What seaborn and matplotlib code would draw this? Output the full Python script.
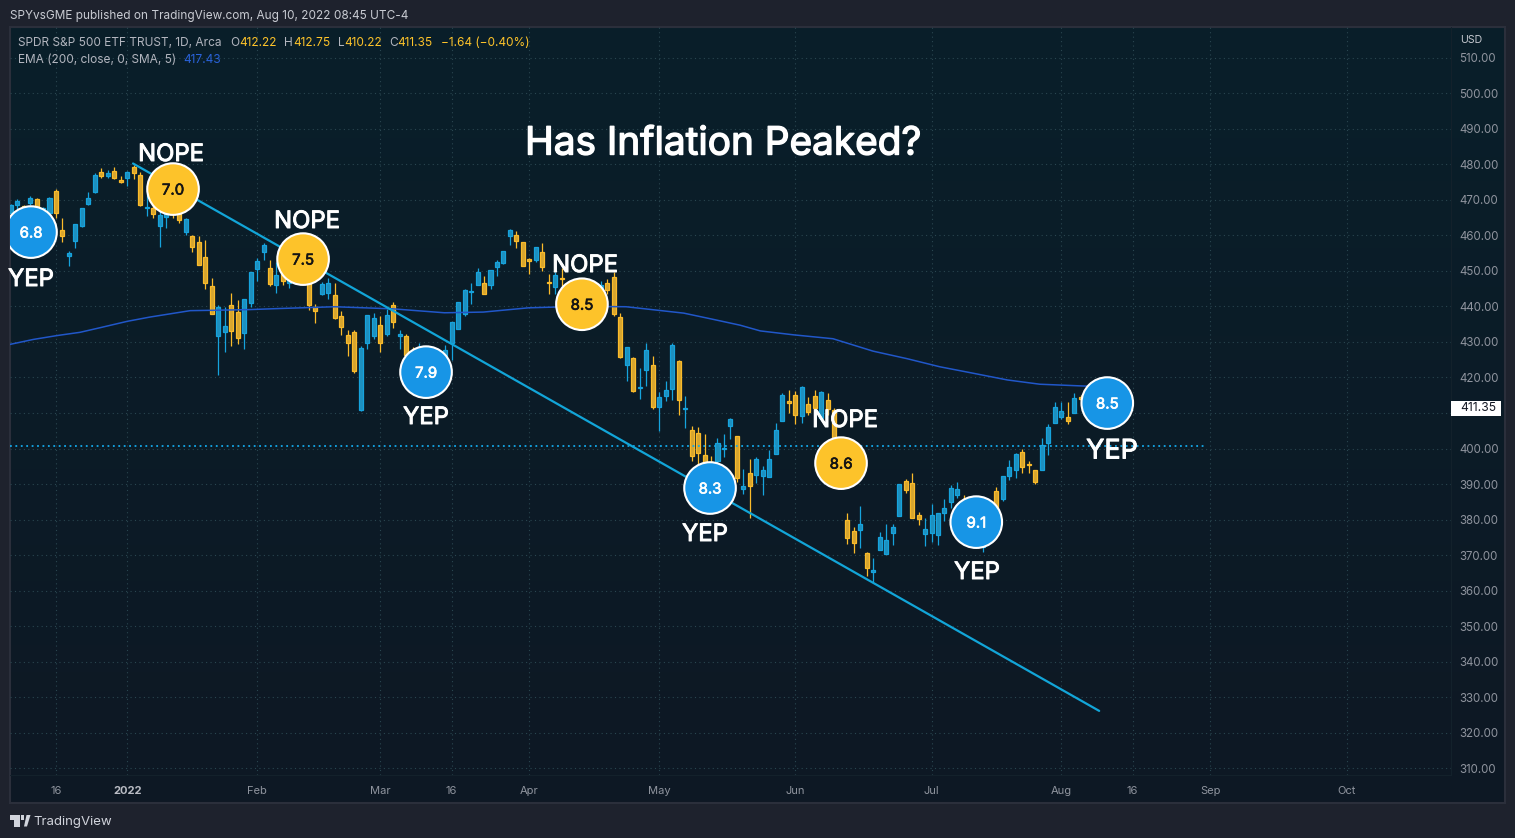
import numpy as np
import pandas as pd
import matplotlib
matplotlib.use("Agg")
import matplotlib.pyplot as plt
import matplotlib.patheffects as pe
from matplotlib.patches import Polygon, Rectangle
import seaborn as sns

W, H = 1515, 838

opens = [466.2,468.5,468.2,469.1,470.1,466.6,466.2,472.6,461.6,454.3,
 458.5,462.7,468.7,472.1,477.7,476.8,478.0,475.6,476.2,479.1,
 477.1,467.7,467.7,462.7,465.2,467.6,466.1,461.0,459.7,458.0,
 453.8,445.6,431.8,432.9,440.5,438.3,432.6,441.0,450.6,455.4,
 450.9,446.1,450.2,446.5,447.9,452.1,446.5,439.9,443.6,443.8,
 443.1,437.2,431.9,432.7,410.8,429.6,431.7,434.9,432.3,440.5,
 431.8,431.6,427.7,424.9,426.8,422.1,423.0,425.4,429.8,433.5,
 437.9,444.1,445.9,446.7,445.9,451.1,452.1,459.9,460.2,458.0,
 453.3,453.1,455.2,446.8,445.5,448.0,446.0,441.8,439.0,443.6,
 439.9,442.7,446.7,448.4,436.9,423.6,425.6,417.0,422.2,423.4,
 411.8,414.9,416.8,424.5,411.0,405.1,404.3,398.1,396.3,396.5,
 399.8,406.4,403.4,388.5,393.0,392.5,392.4,392.1,398.6,407.8,
 413.5,415.0,409.3,412.4,414.7,408.5,413.8,410.8,394.9,379.8,
 376.7,377.2,370.6,365.4,371.5,370.4,376.3,381.1,391.0,390.2,
 381.2,376.0,376.3,375.8,381.9,385.0,387.0,385.5,382.7,374.3,
 372.4,378.0,388.2,385.8,392.3,394.0,398.9,395.6,393.9,394.0,
 401.6,407.2,409.0,409.0,410.1,414.4,414.2,413.5,412.9,412.22]
closes = [468.5,469.6,466.6,470.6,467.6,467.6,470.6,466.3,459.9,455.0,
 463.1,467.6,470.6,477.1,476.8,477.4,476.2,474.9,477.7,477.6,
 468.4,467.9,466.1,465.6,466.6,466.6,464.4,464.7,456.6,451.7,
 446.6,437.9,439.7,434.4,433.1,431.2,442.0,449.8,452.9,457.4,
 446.4,448.7,447.2,448.3,449.7,448.3,440.5,438.8,446.2,446.5,
 436.8,434.1,429.6,421.9,428.2,437.7,436.6,429.8,437.7,435.7,
 432.1,426.3,423.0,428.2,423.0,425.8,426.8,427.7,435.5,441.1,
 444.5,444.3,449.6,443.6,450.3,452.6,455.6,461.6,458.5,451.5,
 452.9,456.8,451.0,446.5,448.7,447.6,442.2,444.6,444.6,439.0,
 444.1,446.0,444.6,437.9,425.8,428.5,416.1,417.3,427.6,411.8,
 414.4,416.4,429.0,413.7,411.3,398.0,398.8,395.4,392.1,401.7,
 400.0,408.2,391.8,389.4,389.5,397.0,393.9,397.2,405.1,415.2,
 412.9,409.5,417.2,410.4,411.5,415.8,411.0,402.9,389.7,374.9,
 373.5,378.9,366.5,365.7,375.0,374.2,377.8,389.9,388.4,380.5,
 380.3,377.3,381.2,381.8,383.2,388.9,388.5,382.7,378.0,378.9,
 378.0,382.7,382.7,392.2,394.7,398.6,394.8,395.4,390.7,400.9,
 406.0,411.8,410.7,407.8,414.3,414.0,413.6,412.9,413.0,411.35]
highs = [468.8,470.2,468.5,471.0,470.4,467.9,470.8,472.9,464.8,455.6,
 463.3,467.8,472.1,477.4,478.8,478.5,479.1,476.7,478.0,479.7,
 477.9,471.8,468.5,467.1,468.0,468.0,467.1,465.0,460.0,459.7,
 458.8,448.1,440.4,439.9,443.9,441.8,442.0,449.8,453.5,457.9,
 453.0,452.6,451.2,449.7,451.0,453.0,452.1,440.8,446.9,448.1,
 446.5,438.7,433.3,433.3,428.8,437.7,438.0,437.3,439.4,441.2,
 433.3,432.1,428.5,429.6,428.0,427.0,428.0,429.0,435.7,441.1,
 444.9,446.6,450.7,448.5,450.3,453.0,455.6,461.9,461.2,458.2,
 453.5,456.8,457.7,449.0,449.7,450.7,447.0,446.0,446.0,445.0,
 445.5,447.0,447.7,449.7,438.0,428.6,425.8,422.8,429.8,426.0,
 415.9,419.0,429.6,424.9,414.8,406.3,406.0,404.1,398.0,403.1,
 404.1,408.5,403.6,394.2,397.0,397.5,395.2,399.6,407.1,415.5,
 416.5,416.3,417.6,414.6,416.6,416.2,415.7,411.3,396.0,381.8,
 378.0,383.8,371.0,369.1,376.4,378.8,378.8,389.9,391.4,393.0,
 382.2,380.6,384.3,381.8,385.7,389.7,390.5,386.8,384.0,380.0,
 379.0,384.0,389.1,392.3,396.8,398.8,400.0,396.6,393.9,402.9,
 406.8,413.0,413.2,413.0,415.5,415.0,415.0,413.8,413.5,412.75]
lows = [465.4,467.1,466.2,468.5,466.6,466.0,465.7,464.9,458.2,451.4,
 456.5,462.4,468.5,471.8,476.2,476.2,475.8,474.6,473.8,475.8,
 468.2,465.4,464.9,456.8,462.0,465.0,463.5,460.1,455.4,451.7,
 444.8,437.9,420.7,427.2,428.8,429.5,428.0,439.9,447.1,453.0,
 445.7,443.8,446.0,445.2,446.5,447.5,439.0,435.4,443.2,442.0,
 436.5,431.9,426.0,421.3,410.5,428.1,430.9,427.1,431.6,434.0,
 428.1,425.8,422.0,424.0,421.5,421.0,422.0,424.5,424.9,433.5,
 437.4,440.6,445.9,443.6,445.0,448.5,451.9,457.2,456.5,451.5,
 449.2,452.5,450.0,443.6,443.6,445.7,441.0,440.0,438.0,438.0,
 439.0,441.5,443.5,437.4,425.6,419.0,415.9,414.0,417.6,411.2,
 404.9,413.4,413.6,409.4,405.8,396.6,394.0,394.0,390.0,395.4,
 397.7,402.7,390.7,387.2,380.5,390.2,386.9,392.1,398.6,407.8,
 409.9,406.9,407.3,409.4,410.4,408.0,409.4,402.4,388.5,373.2,
 370.7,372.1,364.2,362.5,371.5,370.2,372.9,381.1,387.6,380.5,
 378.5,372.6,373.7,372.9,379.7,383.4,386.0,381.8,376.0,372.5,
 371.0,377.0,381.8,385.2,391.1,391.8,393.0,393.0,390.0,394.0,
 398.3,407.2,408.3,406.9,410.1,413.6,413.0,412.5,412.5,410.22]
first_bar = -18

ema_bars = [-18.1,-14.5,-10.8,-7.3,-4.2,0,3.5,6.6,9.7,13.2,18.9,23.5,32,41,48.9,54.9,61.9,69.8,76.9,85.8,
            90.2,94.5,97.6,102.7,108.8,115,120.2,125.3,130.4,135.7,140.7,147.4,150]
ema_vals = [429.3,430.7,431.8,432.7,434.0,435.8,437.0,437.9,438.8,438.9,439.1,439.4,439.9,439.3,438.2,438.4,439.6,440.0,439.9,438.1,
            436.4,434.7,433.1,432.0,430.9,427.4,425.3,423.0,421.2,419.3,418.1,417.6,417.43]

trend_bars = [0.88, 149.85]
trend_vals = [480.2, 326.2]
level_bars = [-18.1, 166.5]
level_vals = [400.7, 400.7]

cpi_bars = [-14.85, 7.05, 27.1, 46.06, 70.1, 89.85, 110.05, 130.9, 151.1]
cpi_vals = [460.9, 473.0, 453.3, 421.5, 440.6, 388.9, 395.9, 379.3, 412.8]
cpi_text = ["6.8", "7.0", "7.5", "7.9", "8.5", "8.3", "8.6", "9.1", "8.5"]
cpi_call = ["YEP", "NOPE", "NOPE", "YEP", "NOPE", "YEP", "NOPE", "YEP", "YEP"]
call_px = [(31, 278), (171, 153), (307, 220), (426, 416), (585, 264), (705, 533), (845, 419), (977, 571), (1112, 449)]
call_size = [17.2, 17.2, 17.2, 17.2, 17.2, 17.2, 17.2, 17.2, 19.4]

price_ticks = list(range(310, 520, 10))
date_bars = [-11, 0, 20, 39, 50, 62, 82, 103, 124, 144, 155, 167, 188]
date_labels = ["16", "2022", "Feb", "Mar", "16", "Apr", "May", "Jun", "Jul", "Aug", "16", "Sep", "Oct"]

BLUE, YELLOW = "#1795e6", "#fdc32a"
UP_EDGE, UP_FACE = "#16a3dd", "#1e8fbe"
DN_EDGE, DN_FACE = "#fbbb2a", "#d6a52f"
OUTER = "#1e222d"

sns.set_theme(style="dark")
plt.rcParams["font.family"] = ["Inter", "DejaVu Sans"]

fig = plt.figure(figsize=(W / 100, H / 100), dpi=100, facecolor=OUTER)


def fx(px):
    return px / W


def fy(py):
    return 1 - py / H


def box(l, t, r, b):
    return [fx(l), fy(b), (r - l) / W, (b - t) / H]


def heavy(width, color="white"):
    return [pe.withStroke(linewidth=width, foreground=color)]


bg = fig.add_axes(box(10, 27, 1505, 803), zorder=0)
grad = np.linspace(0, 1, 256)[:, None, None] * np.array([[[5, -7, -6]]]) + np.array([[[9, 31, 42]]])
bg.imshow((grad / 255).clip(0, 1), aspect="auto", extent=(0, 1, 0, 1))
bg.set_xticks([])
bg.set_yticks([])
for s in bg.spines.values():
    s.set_color("#2b2f3b")
    s.set_linewidth(1.5)

ax = fig.add_axes(box(10, 27, 1451, 775), zorder=1)
ax.patch.set_alpha(0)
ax.set_xlim(-18.09, 204.1)
ax.set_ylim(308.16, 518.6)
for s in ax.spines.values():
    s.set_visible(False)
for side in ("right", "bottom"):
    ax.spines[side].set_visible(True)
    ax.spines[side].set_color("#14222c")
    ax.spines[side].set_linewidth(0.7)

ax.set_yticks(price_ticks)
ax.set_yticklabels(["" if p == 410 else f"{p:.2f}" for p in price_ticks])
ax.set_xticks(date_bars)
ax.set_xticklabels(date_labels)
ax.yaxis.tick_right()
ax.tick_params(axis="y", length=0, pad=6, labelsize=8.3, labelcolor="#8f949e")
ax.tick_params(axis="x", length=0, pad=8, labelsize=8, labelcolor="#8f949e")
for lab in ax.get_xticklabels():
    if lab.get_text() == "2022":
        lab.set_fontweight("bold")
        lab.set_color("#b9bcc4")
ax.grid(True, color="#2a4650", linestyle=(0, (1, 3)), linewidth=0.8)
ax.set_axisbelow(True)

df = pd.DataFrame({"bar": np.arange(first_bar, first_bar + len(opens)),
                   "open": opens, "high": highs, "low": lows, "close": closes})
df["up"] = df["close"] >= df["open"]
for up, edge, face in [(True, UP_EDGE, UP_FACE), (False, DN_EDGE, DN_FACE)]:
    part = df[df["up"] == up]
    ax.vlines(part["bar"], part["low"], part["high"], color=edge, linewidth=0.9, zorder=3)
    lo = part[["open", "close"]].min(axis=1)
    hi = part[["open", "close"]].max(axis=1)
    ax.bar(part["bar"], (hi - lo).clip(lower=0.3), bottom=lo, width=0.62, color=face,
           edgecolor=edge, linewidth=0.9, zorder=3.2)

sns.lineplot(x=ema_bars, y=ema_vals, ax=ax, color="#2157c9", linewidth=1.1, zorder=3.5, errorbar=None)
sns.lineplot(x=level_bars, y=level_vals, ax=ax, color="#14a8e8", linewidth=1.3, linestyle=(0, (1, 2)), zorder=3.6, errorbar=None)
sns.lineplot(x=trend_bars, y=trend_vals, ax=ax, color="#12a5d8", linewidth=1.6, zorder=4, errorbar=None)

colors = [BLUE if c == "YEP" else YELLOW for c in cpi_call]
ax.scatter(cpi_bars, cpi_vals, s=1380, c=colors, edgecolors="white", linewidths=1.5, zorder=5, clip_on=True)
for xb, yv, t, c in zip(cpi_bars, cpi_vals, cpi_text, cpi_call):
    col = "white" if c == "YEP" else "#141414"
    ax.text(xb, yv, t, ha="center", va="center_baseline", fontsize=10.8, color=col, zorder=6,
            path_effects=heavy(0.45, col))

for (px, py), c, size in zip(call_px, cpi_call, call_size):
    fig.text(fx(px), fy(py - 0.5), c, ha="center", va="center_baseline", fontsize=size,
             color="white", zorder=7, path_effects=heavy(0.7))

fig.text(fx(723), fy(140), "Has Inflation Peaked?", ha="center", va="center_baseline", fontsize=27.9,
         color="white", zorder=7, path_effects=heavy(1.0))

# price tag
fig.add_artist(Rectangle((fx(1451), fy(415.7)), 49.7 / W, 14.7 / H, fc="white", ec="none", zorder=2))
fig.text(fx(1496), fy(408.3), "411.35", ha="right", va="center", fontsize=8.7, color="#131722", zorder=3)

GREY = "#b2b5be"
fig.text(fx(10), fy(15.5), "SPYvsGME published on TradingView.com, Aug 10, 2022 08:45 UTC-4",
         fontsize=8.5, color="#c9ccd3", va="center", zorder=7)
fig.text(fx(18), fy(43.5), "SPDR S&P 500 ETF TRUST, 1D, Arca", fontsize=8.55, color=GREY, va="center", zorder=7)
legend_bits = [(230.3, "O", GREY), (239.3, "412.22", YELLOW), (284.3, "H", GREY), (293.3, "412.75", YELLOW),
               (337.7, "L", GREY), (344.3, "410.22", YELLOW), (389.3, "C", GREY), (397.7, "411.35", YELLOW),
               (441, "\u22121.64 (\u22120.40%)", YELLOW)]
for px, t, col in legend_bits:
    fig.text(fx(px), fy(43.5), t, fontsize=8.55, color=col, va="center", zorder=7)
fig.text(fx(18), fy(60), "EMA (200, close, 0, SMA, 5)", fontsize=8.55, color=GREY, va="center", zorder=7)
fig.text(fx(183), fy(60), "417.43", fontsize=8.55, color="#2962d9", va="center", zorder=7)
fig.text(fx(1471), fy(40), "USD", fontsize=7.6, color="#c6c9d0", ha="center", va="center", zorder=7)

LOGO = "#d1d4dc"
fig.add_artist(Polygon([(fx(10), fy(815)), (fx(20), fy(815)), (fx(20), fy(826.5)), (fx(14.5), fy(826.5)),
                        (fx(14.5), fy(820)), (fx(10), fy(820))], closed=True, fc=LOGO, ec="none"))
fig.add_artist(Polygon([(fx(24), fy(826.5)), (fx(26.5), fy(815)), (fx(30.5), fy(815)), (fx(27), fy(826.5))],
                       closed=True, fc=LOGO, ec="none"))
fig.add_artist(Rectangle((fx(20.8), fy(820)), 3.6 / W, 4.8 / H, fc=LOGO, ec="none"))
fig.text(fx(33), fy(822), "TradingView", fontsize=9.5, color=LOGO, va="center", zorder=7)

fig.savefig("out.png", dpi=100, facecolor=OUTER)
